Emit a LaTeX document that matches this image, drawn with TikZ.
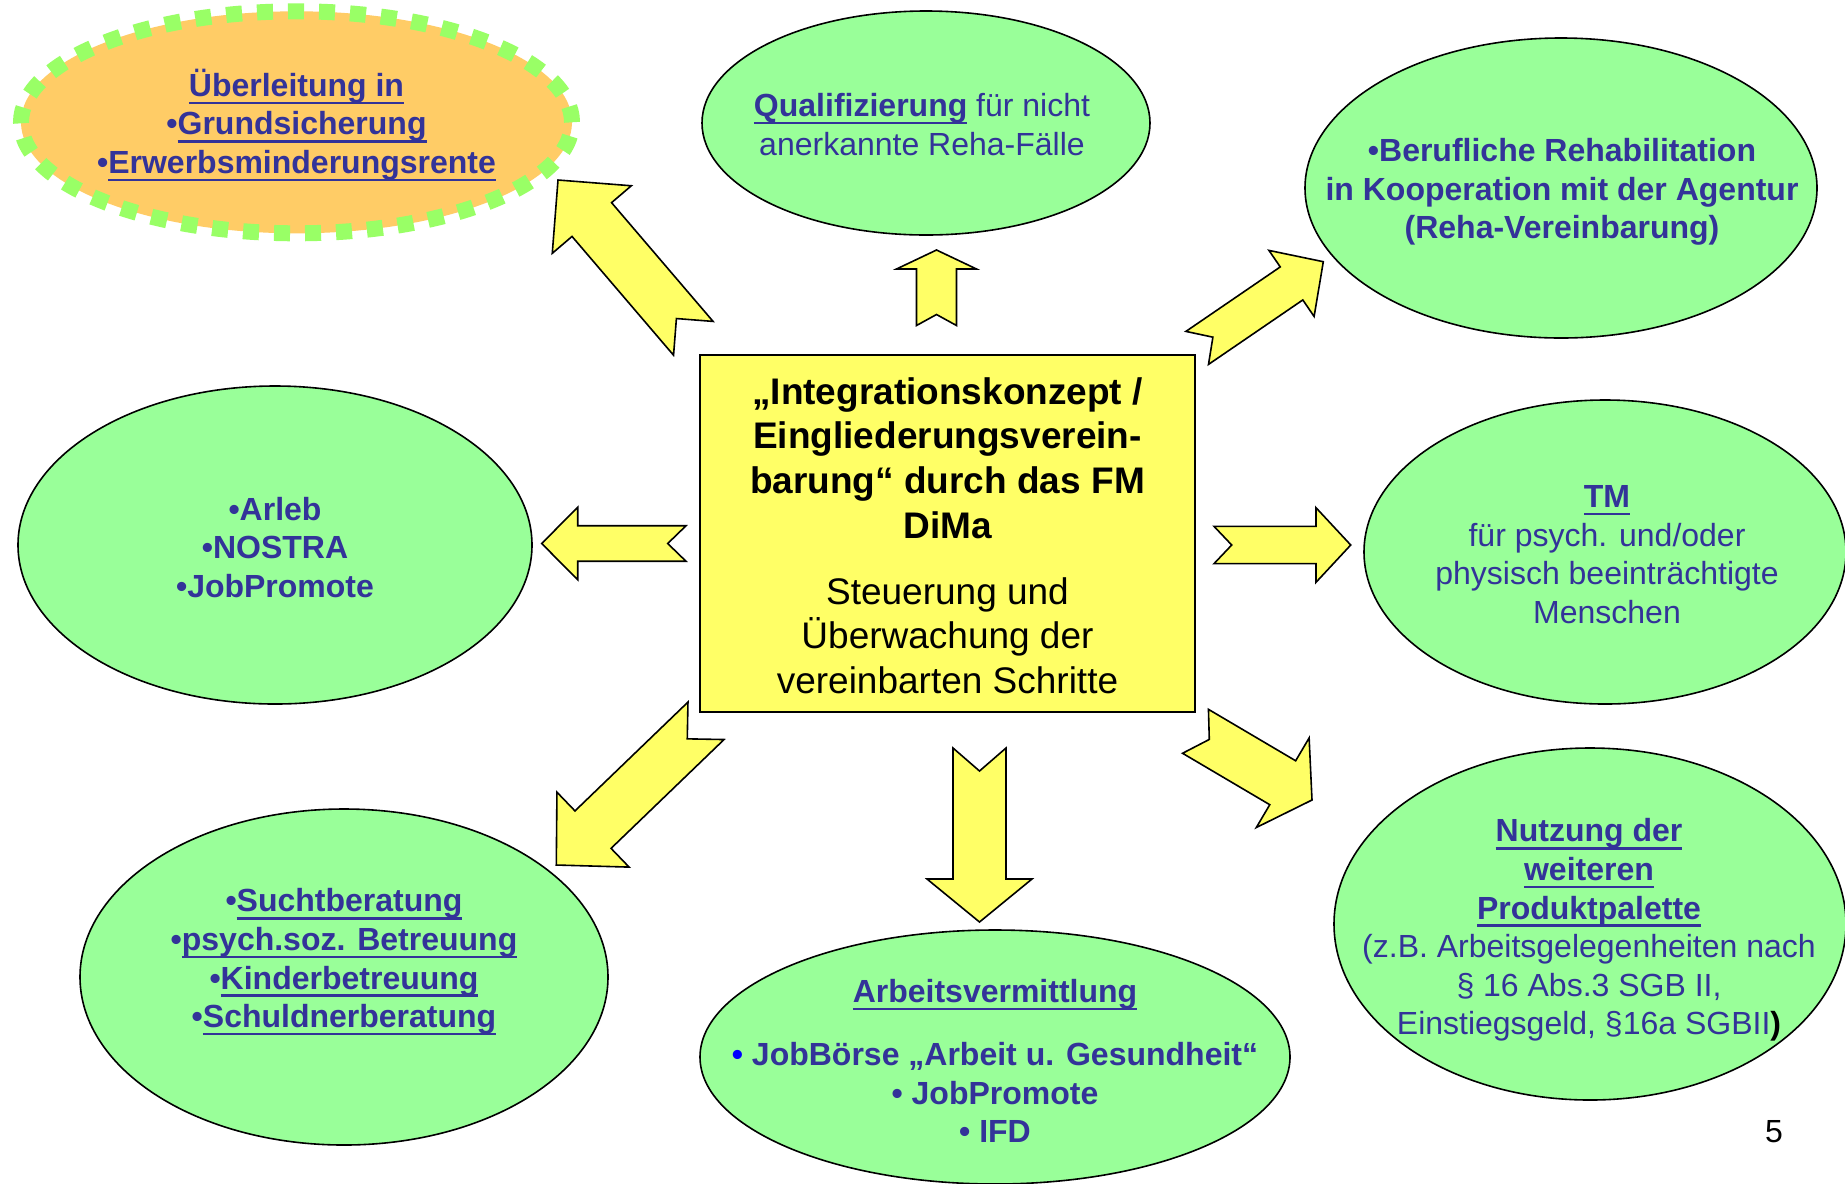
\documentclass[tikz,border=0pt]{standalone}
\usepackage{fontspec}
\setmainfont{Liberation Sans}
\usetikzlibrary{shapes.geometric}
\definecolor{tblue}{HTML}{333399}
\definecolor{lgreen}{HTML}{99FF99}
\definecolor{ltorange}{HTML}{FFCC66}
\definecolor{dotgreen}{HTML}{99FF66}
\definecolor{ayellow}{HTML}{FFFF66}
\newcommand\uln[1]{\setbox0\hbox{#1}\rlap{\rule[-0.24em]{\wd0}{1.7pt}}\box0}
\newcommand\fsn{\fontsize{24pt}{28.9pt}\selectfont}
\newcommand\fsc{\fontsize{27.75pt}{33.5pt}\selectfont}
% #1 tail x, #2 tail y, #3 tip x, #4 tip y (pixels, y down), #5 shaft width, #6 head width, #7 head length, #8 notch depth
\newcommand\blockarrow[8]{%
  \pgfmathsetmacro\BAdx{#3-#1}%
  \pgfmathsetmacro\BAdy{#2-#4}%
  \pgfmathsetmacro\BAang{atan2(\BAdy,\BAdx)}%
  \pgfmathsetmacro\BAlen{veclen(\BAdx,\BAdy)}%
  \pgfmathsetmacro\BAs{#5/2}%
  \pgfmathsetmacro\BAh{#6/2}%
  \pgfmathsetmacro\BAb{\BAlen-#7}%
  \begin{scope}[shift={(#1,-#2)},rotate=\BAang]
    \draw[barrow] (0,\BAs) -- (\BAb,\BAs) -- (\BAb,\BAh) -- (\BAlen,0) -- (\BAb,-\BAh) -- (\BAb,-\BAs) -- (0,-\BAs) -- (#8,0) -- cycle;
  \end{scope}}
\tikzset{
  txt/.style={text=tblue, align=center, inner sep=0pt, font=\fsn},
  rad/.style 2 args={minimum width={#1*1.5pt}, minimum height={#2*1.5pt}},
  ell/.style={ellipse, draw=black, line width=1.2pt, fill=lgreen, inner sep=0pt},
  barrow/.style={draw=black, line width=1.2pt, fill=ayellow, line join=miter},
  cbox/.style={rectangle, draw=black, line width=1.5pt, fill=ayellow, inner sep=0pt},
}
\begin{document}
\begin{tikzpicture}[x=0.75pt,y=0.75pt]
\useasboundingbox (0,0) rectangle (1845,-1183);
\fill[white] (0,0) rectangle (1845,-1183);
\clip (0,0) rectangle (1845,-1183);

% ellipses
\node[ell, rad={224}{112}] (qual) at (926,-123) {};
\node[ell, rad={256}{150}] (reha) at (1561,-188) {};
\node[ell, rad={257}{159}] (arleb) at (275,-545) {};
\node[ell, rad={241}{152}] (tm) at (1605,-552) {};
\node[ell, rad={264}{168}] (sucht) at (344,-977) {};
\node[ell, rad={295}{127}] (arbeit) at (995,-1057) {};
\node[ell, rad={256}{176}] (nutz) at (1590,-924) {};
\node[ellipse, inner sep=0pt, fill=ltorange, draw=dotgreen, line width=12pt,
      dash pattern=on 12pt off 11.25pt, rad={275.5}{111}] (ueber) at (296.5,-122.3) {};

% block arrows
\blockarrow{693.3}{338.3}{558}{180}{52}{104}{52}{26}
\blockarrow{936.5}{325.5}{936.5}{250}{40}{80}{19}{11}
\blockarrow{1197.2}{347.9}{1323.3}{261.7}{40}{80}{38.5}{19}
\blockarrow{686}{543.5}{541.7}{543.5}{35.5}{72.5}{36}{18.3}
\blockarrow{1214}{545}{1350.7}{545}{37.3}{74.6}{34.7}{17.7}
\blockarrow{706}{720.8}{556.3}{865}{52}{104}{51}{26}
\blockarrow{979.5}{748}{979.5}{922}{53}{105}{43}{23}
\blockarrow{1195.5}{731.3}{1312}{800}{51}{104}{34}{16}

% centre box
\node[cbox, minimum width={495*0.75pt}, minimum height={357*0.75pt}] (box) at (947.5,-533.5) {};
\node[align=center, inner sep=0pt, font=\fsc] (boxT) at (947.5,-535.5)
  {{\bfseries „Integrationskonzept /}\\{\bfseries Eingliederungsverein-}\\{\bfseries barung“ durch das FM}\\{\bfseries DiMa}\\[16pt]Steuerung und\\Überwachung der\\vereinbarten Schritte};

% texts
\node[txt, font={\fsn\bfseries}] (ueberT) at (296.5,-125)
  {\uln{Überleitung in}\\•\uln{Grundsicherung}\\•\uln{Erwerbsminderungsrente}};
\node[txt] (qualT) at (922,-124.5)
  {{\bfseries\uln{Qualifizierung}} für nicht\\anerkannte Reha-Fälle};
\node[txt, font={\fsn\bfseries}] (rehaT) at (1562,-192)
  {•Berufliche Rehabilitation\\in Kooperation mit der Agentur\\(Reha-Vereinbarung)};
\node[txt, font={\fsn\bfseries}] (arlebT) at (275,-547.5)
  {•Arleb\\•NOSTRA\\•JobPromote};
\node[txt] (tmT) at (1607,-554.5)
  {{\bfseries\uln{TM}}\\für psych. und/oder\\physisch beeinträchtigte\\Menschen};
\node[txt, font={\fsn\bfseries}] (suchtT) at (344,-962)
  {•\uln{Suchtberatung}\\•\uln{psych.soz. Betreuung}\\•\uln{Kinderbetreuung}\\•\uln{Schuldnerberatung}};
\node[txt, font={\fsn\bfseries}] (arbeitT) at (995,-1061)
  {\uln{Arbeitsvermittlung}\\[18.8pt]{\color{blue}•} JobBörse „Arbeit u. Gesundheit“\\• JobPromote\\• IFD};
\node[txt] (nutzT) at (1589,-930)
  {{\bfseries\uln{Nutzung der}}\\{\bfseries\uln{weiteren}}\\{\bfseries\uln{Produktpalette}}\\(z.B. Arbeitsgelegenheiten nach\\§ 16 Abs.3 SGB II,\\Einstiegsgeld, §16a SGBII{\color{black}\bfseries )}};
\node[inner sep=0pt, font={\fontsize{24pt}{28pt}\selectfont}] (pg) at (1774,-1132) {5};
\end{tikzpicture}
\end{document}
